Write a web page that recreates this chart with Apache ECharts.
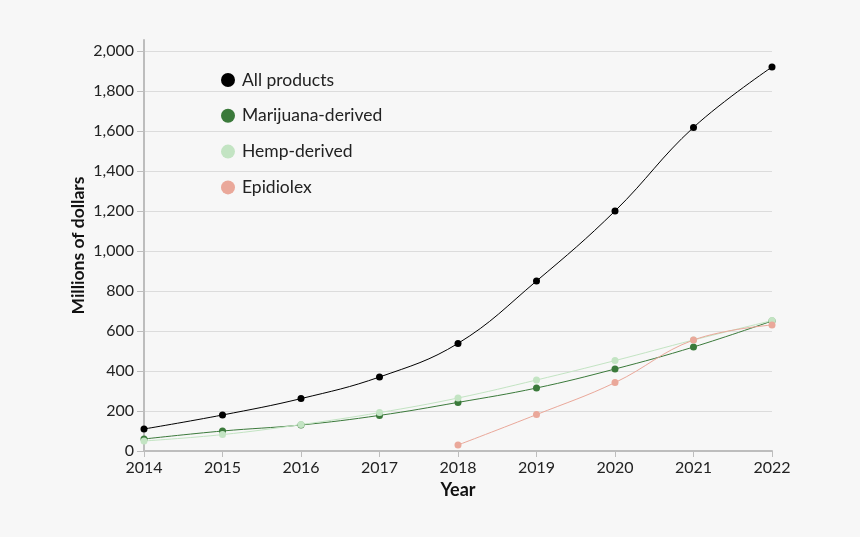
<!DOCTYPE html>
<html><head><meta charset="utf-8">
<script src="https://cdn.jsdelivr.net/npm/echarts@6/dist/echarts.min.js"></script>
<style>html,body{margin:0;padding:0;background:#f7f7f7;}#c{width:860px;height:537px;}</style>
</head><body><div id="c"></div>
<script>
const years = ['2014','2015','2016','2017','2018','2019','2020','2021','2022'];
const allProducts = [110, 180, 262, 370, 538, 850, 1200, 1618, 1920];
const marijuana = [60, 100, 130, 178, 243, 315, 410, 520, 650];
const hemp = [50, 82, 132, 192, 265, 355, 452, 555, 652];
const epidiolex = [null, null, null, null, 30, 182, 342, 555, 630];
const yTicks = [0,200,400,600,800,1000,1200,1400,1600,1800,2000];

const font = 'Lato, "Noto Sans", sans-serif';
function line(name, data, color) {
  return {
    name, type: 'line', data, smooth: 0.4,
    symbol: 'circle', symbolSize: 7, showSymbol: true,
    itemStyle: {color: color},
    lineStyle: {color: color, width: 1},
    emphasis: {disabled: true}
  };
}
const chart = echarts.init(document.getElementById('c'));
chart.setOption({
  backgroundColor: '#f7f7f7',
  animation: false,
  textStyle: {fontFamily: font},
  grid: {left: 144, right: 88, top: 40, bottom: 86, containLabel: false},
  legend: {
    orient: 'vertical', left: 216, top: 66, itemGap: 17.8,
    icon: 'circle', itemWidth: 14, itemHeight: 14,
    textStyle: {fontFamily: font, fontSize: 17.5, color: '#222', padding: [0,0,0,2]},
    data: ['All products','Marijuana-derived','Hemp-derived','Epidiolex']
  },
  xAxis: {
    type: 'category', data: years, boundaryGap: false,
    name: 'Year', nameLocation: 'middle', nameGap: 30,
    nameTextStyle: {fontFamily: font, fontSize: 18, fontWeight: 'bold', color: '#111'},
    axisLine: {lineStyle: {color: '#bdbdbd', width: 2}},
    axisTick: {show: true, length: 6, alignWithLabel: true, lineStyle: {color: '#bdbdbd', width: 1}},
    axisLabel: {fontFamily: font, fontSize: 16, color: '#222', margin: 9},
    splitLine: {show: false}
  },
  yAxis: {
    type: 'value', min: 0, max: 2055,
    name: 'Millions of dollars', nameLocation: 'middle', nameRotate: 90, nameGap: 57,
    nameMoveOverlap: false,
    nameTextStyle: {fontFamily: font, fontSize: 17.5, fontWeight: 'bold', color: '#111'},
    axisLine: {show: true, lineStyle: {color: '#bdbdbd', width: 2}},
    axisTick: {show: true, length: 7, customValues: yTicks, lineStyle: {color: '#bdbdbd', width: 1}},
    axisLabel: {fontFamily: font, fontSize: 16, color: '#222', margin: 10, customValues: yTicks,
      formatter: v => v.toLocaleString('en-US')},
    splitLine: {show: true, lineStyle: {color: '#dcdcdc', width: 1}}
  },
  series: [
    line('All products', allProducts, '#000000'),
    line('Marijuana-derived', marijuana, '#3b7a3b'),
    line('Hemp-derived', hemp, '#c3e4c3'),
    line('Epidiolex', epidiolex, '#eaa89a')
  ]
});
</script></body></html>
